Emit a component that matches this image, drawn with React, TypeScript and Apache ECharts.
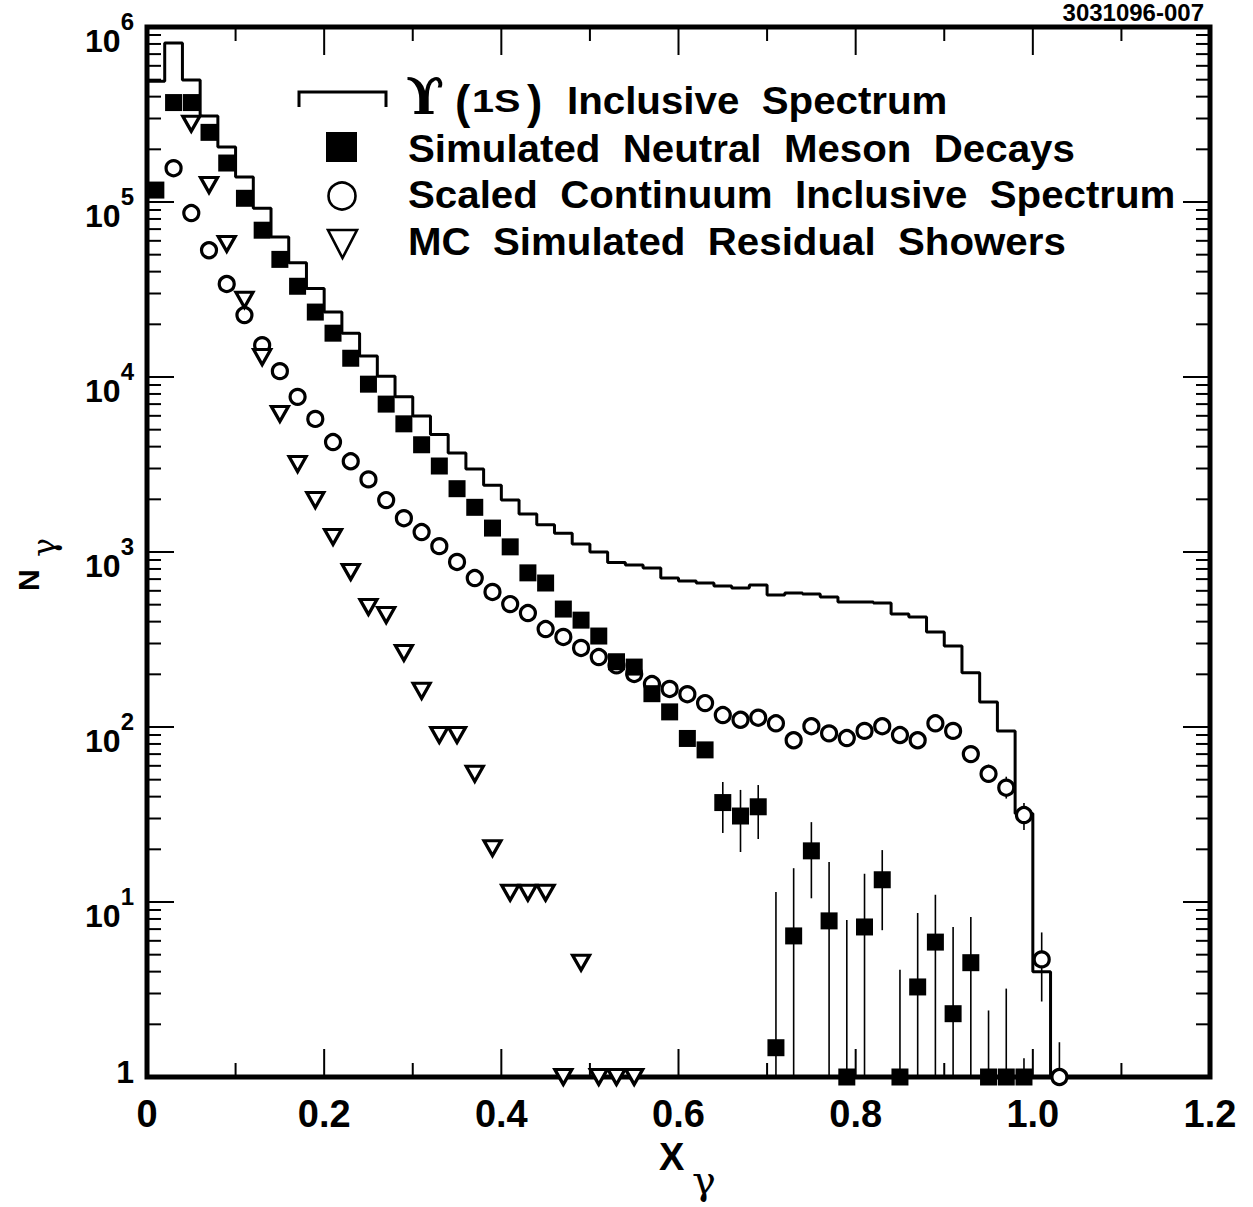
import React, { useEffect, useRef } from 'react';
import * as echarts from 'echarts';

const FONT = '"Liberation Sans", Arial, Helvetica, sans-serif';

// Υ(1S) inclusive spectrum histogram: left bin edges and bin contents
const histEdges = [0, 0.02, 0.04, 0.06, 0.08, 0.1, 0.12, 0.14, 0.16, 0.18, 0.2, 0.22, 0.24, 0.26, 0.28, 0.3, 0.32, 0.34, 0.36, 0.38, 0.4, 0.42, 0.44, 0.46, 0.48, 0.5, 0.52, 0.54, 0.56, 0.58, 0.6, 0.62, 0.64, 0.66, 0.68, 0.7, 0.72, 0.74, 0.76, 0.78, 0.8, 0.82, 0.84, 0.86, 0.88, 0.9, 0.92, 0.94, 0.96, 0.98, 1.0];
const histValues = [490000, 810000, 498000, 310000, 206000, 139000, 92000, 63000, 45000, 32000, 23500, 17800, 13200, 10100, 7700, 5980, 4700, 3680, 2980, 2410, 1980, 1650, 1430, 1280, 1110, 1000, 870, 843, 810, 710, 683, 665, 640, 623, 648, 568, 583, 576, 553, 518, 518, 511, 442, 425, 349, 290, 204, 139, 95, 32, 4];
const histEnd = 1.02;
const histFloor = 1;

// Simulated neutral meson decays (filled squares)
const mesonX = [0.01, 0.03, 0.05, 0.07, 0.09, 0.11, 0.13, 0.15, 0.17, 0.19, 0.21, 0.23, 0.25, 0.27, 0.29, 0.31, 0.33, 0.35, 0.37, 0.39, 0.41, 0.43, 0.45, 0.47, 0.49, 0.51, 0.53, 0.55, 0.57, 0.59, 0.61, 0.63, 0.65, 0.67, 0.69, 0.71, 0.73, 0.75, 0.77, 0.79, 0.81, 0.83, 0.85, 0.87, 0.89, 0.91, 0.93, 0.95, 0.97, 0.99];
const mesonY = [117000, 370000, 370000, 250000, 167000, 105000, 69000, 47000, 33000, 23500, 17800, 12800, 9100, 7000, 5400, 4100, 3100, 2300, 1800, 1370, 1070, 760, 665, 472, 408, 331, 236, 220, 155, 122, 86, 74, 37, 31, 35, 1.47, 6.4, 19.6, 7.8, 1, 7.2, 13.4, 1, 3.27, 5.9, 2.3, 4.5, 1, 1, 1];
const mesonErrX = [0.65, 0.67, 0.69, 0.71, 0.73, 0.75, 0.77, 0.79, 0.81, 0.83, 0.85, 0.87, 0.89, 0.91, 0.93, 0.95, 0.97, 0.99];
const mesonErrLow = [24.8, 19.3, 22.9, 1, 1, 10.5, 1, 1, 1, 6.9, 1, 1, 1, 1, 1, 1, 1, 1];
const mesonErrHigh = [48.5, 43.7, 46.6, 11.4, 15.6, 28.6, 16.9, 7.9, 14.5, 19.8, 4.1, 8.65, 11, 7.2, 8.2, 2.4, 3.2, 1.28];

// Scaled continuum inclusive spectrum (open circles)
const contX = [0.03, 0.05, 0.07, 0.09, 0.11, 0.13, 0.15, 0.17, 0.19, 0.21, 0.23, 0.25, 0.27, 0.29, 0.31, 0.33, 0.35, 0.37, 0.39, 0.41, 0.43, 0.45, 0.47, 0.49, 0.51, 0.53, 0.55, 0.57, 0.59, 0.61, 0.63, 0.65, 0.67, 0.69, 0.71, 0.73, 0.75, 0.77, 0.79, 0.81, 0.83, 0.85, 0.87, 0.89, 0.91, 0.93, 0.95, 0.97, 0.99, 1.01, 1.03];
const contY = [156000, 86500, 53000, 34000, 22600, 15200, 10800, 7700, 5760, 4250, 3300, 2600, 1980, 1560, 1300, 1080, 877, 710, 591, 504, 448, 363, 327, 283, 251, 225, 201, 176, 165, 154, 137, 117, 110, 113, 105, 84, 101, 92, 86.5, 95, 101, 90, 84, 105, 95, 70, 54, 45, 31.4, 4.7, 1];
const contErrX = [0.95, 0.97, 0.99, 1.01, 1.03];
const contErrLow = [48, 39, 25.8, 2.7, 1];
const contErrHigh = [61, 52, 36.8, 6.7, 1.58];

// MC simulated residual showers (open down triangles)
const showerX = [0.05, 0.07, 0.09, 0.11, 0.13, 0.15, 0.17, 0.19, 0.21, 0.23, 0.25, 0.27, 0.29, 0.31, 0.33, 0.35, 0.37, 0.39, 0.41, 0.43, 0.45, 0.47, 0.49, 0.51, 0.53, 0.55];
const showerY = [280000, 125000, 57600, 27600, 13000, 6150, 3180, 1980, 1220, 769, 485, 436, 265, 161, 90, 90, 54, 20.3, 11.3, 11.3, 11.3, 1, 4.5, 1, 1, 1];

// Axis ticks
const yDecades = [1, 10, 100, 1000, 10000, 100000, 1000000];
const yMantissas = [2, 3, 4, 5, 6, 7, 8, 9];
const xMajorTicks = [0, 0.2, 0.4, 0.6, 0.8, 1.0, 1.2];
const xMinorTicks = [0.1, 0.3, 0.5, 0.7, 0.9, 1.1];

const legendLabels = [
  'Inclusive  Spectrum',
  'Simulated  Neutral  Meson  Decays',
  'Scaled  Continuum  Inclusive  Spectrum',
  'MC  Simulated  Residual  Showers',
];

function txt(x: number, y: number, text: string, size: number, opts: any = {}) {
  const align = opts.align || 'left';
  const valign = opts.valign || 'middle';
  return {
    type: 'text',
    x,
    y,
    rotation: opts.rotation || 0,
    scaleX: opts.scaleX || 1,
    style: {
      text,
      x: 0,
      y: 0,
      fill: '#000',
      fontSize: size,
      fontWeight: opts.weight || 'bold',
      fontFamily: opts.family || FONT,
      fontStyle: opts.style || 'normal',
      align,
      verticalAlign: valign,
      textAlign: align,
      textVerticalAlign: valign,
    },
    silent: true,
  };
}

export default function App() {
  const ref = useRef<HTMLDivElement>(null);
  useEffect(() => {
    const chart = echarts.init(ref.current!, null, { renderer: 'svg' });

    const zip = (xs: number[], ys: number[]) => xs.map((x, i) => [x, ys[i]]);
    const errData = (xs: number[], lo: number[], hi: number[]) => xs.map((x, i) => [x, lo[i], hi[i]]);
    const histData = [...zip(histEdges, histValues), [histEnd, histFloor]];

    const yMinor: number[] = [];
    yDecades.slice(0, -1).forEach((d) => yMantissas.forEach((m) => yMinor.push(d * m)));
    const yTickData = [...yDecades.map((v) => [0.6, v, 27]), ...yMinor.map((v) => [0.6, v, 14])];
    const xTickData = [...xMajorTicks.map((v) => [v, 1000, 28]), ...xMinorTicks.map((v) => [v, 1000, 14])];

    const tickStyle = { stroke: '#000', lineWidth: 2 };

    const errRender = (params: any, api: any) => {
      const x = api.value(0);
      const p1 = api.coord([x, api.value(2)]);
      const p2 = api.coord([x, api.value(1)]);
      return {
        type: 'line',
        shape: { x1: p1[0], y1: p1[1], x2: p2[0], y2: p2[1] },
        style: { stroke: '#000', lineWidth: 1.6 },
      };
    };

    const option: any = {
      animation: false,
      backgroundColor: '#fff',
      grid: {
        left: 147,
        top: 27,
        width: 1063,
        height: 1050,
        show: true,
        borderColor: '#000',
        borderWidth: 5,
        backgroundColor: 'transparent',
      },
      xAxis: {
        type: 'value',
        min: 0,
        max: 1.2,
        interval: 0.2,
        axisLine: { show: false },
        axisTick: { show: false },
        splitLine: { show: false },
        axisLabel: {
          margin: 18,
          color: '#000',
          fontFamily: FONT,
          fontWeight: 'bold',
          fontSize: 38,
          formatter: (v: number) => (Math.abs(v) < 1e-9 ? '0' : v.toFixed(1)),
        },
      },
      yAxis: {
        type: 'log',
        logBase: 10,
        min: 1,
        max: 1000000,
        splitNumber: 5,
        axisLine: { show: false },
        axisTick: { show: false },
        minorTick: { show: false },
        splitLine: { show: false },
        axisLabel: {
          margin: 13,
          padding: [12, 0, 0, 0],
          formatter: (v: number) => {
            const e = Math.round(Math.log10(v));
            return e === 0 ? '{one|1}' : '{b|10}{e|' + e + '}';
          },
          rich: {
            b: { fontFamily: FONT, fontWeight: 'bold', fontSize: 32, color: '#000', verticalAlign: 'bottom' },
            e: { fontFamily: FONT, fontWeight: 'bold', fontSize: 24, color: '#000', verticalAlign: 'top', padding: [0, 0, 24, 0] },
            one: { fontFamily: FONT, fontWeight: 'bold', fontSize: 32, color: '#000', verticalAlign: 'top', padding: [0, 0, 22, 0] },
          },
        },
      },
      series: [
        {
          name: 'hist',
          type: 'line',
          step: 'end',
          data: histData,
          showSymbol: false,
          symbol: 'none',
          lineStyle: { color: '#000', width: 3 },
          silent: true,
          z: 2,
        },
        {
          name: 'mesonErr',
          type: 'custom',
          data: errData(mesonErrX, mesonErrLow, mesonErrHigh),
          encode: { x: 0, y: [1, 2] },
          renderItem: errRender,
          silent: true,
          z: 3,
        },
        {
          name: 'contErr',
          type: 'custom',
          data: errData(contErrX, contErrLow, contErrHigh),
          encode: { x: 0, y: [1, 2] },
          renderItem: errRender,
          silent: true,
          z: 3,
        },
        {
          name: 'continuum',
          type: 'scatter',
          data: zip(contX, contY),
          symbol: 'circle',
          symbolSize: 15,
          itemStyle: { color: '#fff', borderColor: '#000', borderWidth: 3.2, opacity: 1 },
          silent: true,
          z: 4,
        },
        {
          name: 'showers',
          type: 'scatter',
          data: zip(showerX, showerY),
          symbol: 'triangle',
          symbolRotate: 180,
          symbolSize: [17, 15],
          itemStyle: { color: '#fff', borderColor: '#000', borderWidth: 3.2, opacity: 1 },
          silent: true,
          z: 4,
        },
        {
          name: 'meson',
          type: 'scatter',
          data: zip(mesonX, mesonY),
          symbol: 'rect',
          symbolSize: 17,
          itemStyle: { color: '#000', opacity: 1 },
          silent: true,
          z: 5,
        },
        {
          name: 'yTicks',
          type: 'custom',
          data: yTickData,
          encode: { x: 0, y: 1 },
          silent: true,
          z: 6,
          renderItem: (params: any, api: any) => {
            const cs = params.coordSys;
            const y = api.coord([0.6, api.value(1)])[1];
            const len = api.value(2);
            return {
              type: 'group',
              children: [
                { type: 'line', shape: { x1: cs.x, y1: y, x2: cs.x + len, y2: y }, style: tickStyle },
                { type: 'line', shape: { x1: cs.x + cs.width - len, y1: y, x2: cs.x + cs.width, y2: y }, style: tickStyle },
              ],
            };
          },
        },
        {
          name: 'xTicks',
          type: 'custom',
          data: xTickData,
          encode: { x: 0, y: 1 },
          silent: true,
          z: 6,
          renderItem: (params: any, api: any) => {
            const cs = params.coordSys;
            const x = api.coord([api.value(0), 1000])[0];
            const len = api.value(2);
            return {
              type: 'group',
              children: [
                { type: 'line', shape: { x1: x, y1: cs.y + cs.height, x2: x, y2: cs.y + cs.height - len }, style: tickStyle },
                { type: 'line', shape: { x1: x, y1: cs.y, x2: x, y2: cs.y + len }, style: tickStyle },
              ],
            };
          },
        },
      ],
      graphic: [
        // plot id
        txt(1204, 0, '3031096-007', 24, { align: 'right', valign: 'top' }),
        // legend symbols
        {
          type: 'polyline',
          shape: { points: [[299, 107], [299, 92], [386, 92], [386, 107]] },
          style: { stroke: '#000', lineWidth: 3, fill: null },
          silent: true,
        },
        { type: 'rect', shape: { x: 326, y: 132, width: 31, height: 30 }, style: { fill: '#000' }, silent: true },
        { type: 'circle', shape: { cx: 342, cy: 196, r: 13.5 }, style: { fill: '#fff', stroke: '#000', lineWidth: 2.6 }, silent: true },
        {
          type: 'polygon',
          shape: { points: [[328, 230], [357, 230], [342.5, 258]] },
          style: { fill: '#fff', stroke: '#000', lineWidth: 2.6 },
          silent: true,
        },
        // legend texts
        txt(406, 96, 'ϒ', 50, { family: '"DejaVu Serif", serif', weight: 'bold' }),
        txt(455, 102, '(', 46),
        txt(472, 102, '1S', 31, { scaleX: 1.28 }),
        txt(527, 102, ')', 46),
        txt(567, 101, legendLabels[0], 38, { scaleX: 1.06 }),
        txt(408, 149, legendLabels[1], 38, { scaleX: 1.06 }),
        txt(408, 195, legendLabels[2], 38, { scaleX: 1.06 }),
        txt(408, 242, legendLabels[3], 38, { scaleX: 1.06 }),
        // axis titles
        txt(659, 1157, 'X', 38),
        txt(692, 1180, 'γ', 40, { family: '"DejaVu Serif", serif', weight: 'normal' }),
        txt(28, 591, 'N', 30, { rotation: Math.PI / 2 }),
        txt(44, 557, 'γ', 32, { rotation: Math.PI / 2, family: '"DejaVu Serif", serif', weight: 'normal' }),
      ],
    };

    chart.setOption(option);
    return () => chart.dispose();
  }, []);

  return (
    <div
      ref={ref}
      style={{ position: 'fixed', left: 0, top: 0, width: 1253, height: 1207, background: '#fff' }}
    />
  );
}
